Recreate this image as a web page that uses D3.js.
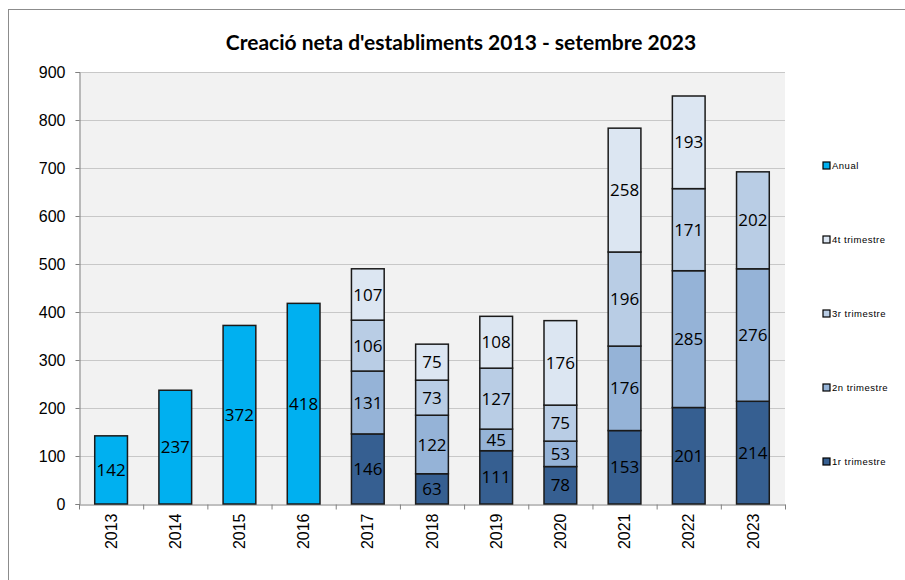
<!DOCTYPE html>
<html>
<head>
<meta charset="utf-8">
<script src="https://cdn.jsdelivr.net/npm/d3@7"></script>
<style>
  body { margin: 0; background: #fff; }
  svg { display: block; }
  .tick text { font-family: "Liberation Sans", Arial, sans-serif; font-size: 16px; fill: #000; }
</style>
</head>
<body>
<svg id="chart" width="905" height="580"></svg>
<script>
var years = ["2013", "2014", "2015", "2016", "2017", "2018", "2019", "2020", "2021", "2022", "2023"];
// yearly totals only for the first years
var anual = [142, 237, 372, 418, null, null, null, null, null, null, null];
var q1 = [null, null, null, null, 146, 63, 111, 78, 153, 201, 214];
var q2 = [null, null, null, null, 131, 122, 45, 53, 176, 285, 276];
var q3 = [null, null, null, null, 106, 73, 127, 75, 196, 171, 202];
var q4 = [null, null, null, null, 107, 75, 108, 176, 258, 193, null];
var yTicks = [0, 100, 200, 300, 400, 500, 600, 700, 800, 900];

var series = [
    { name: "1r trimestre", values: q1, color: "#365f91" },
    { name: "2n trimestre", values: q2, color: "#95b3d7" },
    { name: "3r trimestre", values: q3, color: "#b9cde5" },
    { name: "4t trimestre", values: q4, color: "#dce6f2" },
    { name: "Anual", values: anual, color: "#00b0f0" }
];
var legendOrder = ["Anual", "4t trimestre", "3r trimestre", "2n trimestre", "1r trimestre"];

var svg = d3.select("#chart");
var plotL = 79, plotR = 785, plotT = 72, plotB = 504;

//outer frame
svg.append("rect")
    .attr("x", 8.5).attr("y", 9.5)
    .attr("width", 920).attr("height", 600)
    .attr("fill", "#fff")
    .attr("stroke", "#8c8c8c");

svg.append("text")
    .attr("x", 461).attr("y", 50)
    .attr("text-anchor", "middle")
    .attr("font-family", "Lato, 'Open Sans', sans-serif")
    .attr("font-weight", "bold")
    .attr("font-size", 21)
    .text("Creació neta d'establiments 2013 - setembre 2023");

var x = d3.scaleBand().domain(years).range([plotL, plotR]).paddingInner(0).paddingOuter(0);
var y = d3.scaleLinear().domain([0, 900]).range([plotB, plotT]);

svg.append("rect")
    .attr("x", plotL).attr("y", plotT)
    .attr("width", plotR - plotL).attr("height", plotB - plotT)
    .attr("fill", "#f2f2f2");

svg.append("g")
    .selectAll("line")
    .data(yTicks.slice(1))
    .join("line")
    .attr("x1", plotL).attr("x2", plotR)
    .attr("y1", d => Math.round(y(d)) + 0.5)
    .attr("y2", d => Math.round(y(d)) + 0.5)
    .attr("stroke", "#c8c8c8");

var yAxis = svg.append("g")
    .attr("transform", "translate(" + (plotL + 0.5) + ",0)")
    .call(d3.axisLeft(y).tickValues(yTicks).tickSize(4).tickPadding(10));
yAxis.selectAll("path, line").attr("stroke", "#808080");

var xAxis = svg.append("g")
    .attr("transform", "translate(0," + (plotB + 0.5) + ")")
    .call(d3.axisBottom(x).tickSize(0).tickSizeOuter(0));
xAxis.select("path").attr("stroke", "#808080");
xAxis.selectAll(".tick text")
    .attr("transform", "rotate(-90)")
    .attr("text-anchor", "end")
    .attr("x", -9).attr("y", 0)
    .attr("dy", "0.35em");
//ticks between categories
xAxis.selectAll(".sep")
    .data(years.concat(["end"]))
    .join("line")
    .attr("x1", (d, i) => plotL + i * x.bandwidth() + 0.5)
    .attr("x2", (d, i) => plotL + i * x.bandwidth() + 0.5)
    .attr("y1", 0).attr("y2", 5)
    .attr("stroke", "#808080");

//stack the segments
var barW = x.bandwidth() * 0.51;
var segs = [];
years.forEach(function(yr, i) {
    var base = 0;
    series.forEach(function(s) {
        var v = s.values[i];
        if (v == null) return;
        segs.push({ year: yr, y0: base, y1: base + v, v: v, color: s.color });
        base += v;
    });
});

svg.append("g")
    .selectAll("rect")
    .data(segs)
    .join("rect")
    .attr("x", d => x(d.year) + (x.bandwidth() - barW) / 2)
    .attr("y", d => y(d.y1))
    .attr("width", barW)
    .attr("height", d => y(d.y0) - y(d.y1))
    .attr("fill", d => d.color)
    .attr("stroke", "#1a1a1a")
    .attr("stroke-width", 1.5);

svg.append("g")
    .selectAll("text")
    .data(segs)
    .join("text")
    .attr("x", d => x(d.year) + x.bandwidth() / 2)
    .attr("y", d => (y(d.y0) + y(d.y1)) / 2)
    .attr("dy", "0.36em")
    .attr("text-anchor", "middle")
    .attr("font-family", "'Open Sans', sans-serif")
    .attr("font-size", 17)
    .attr("fill", "#000")
    .text(d => d.v);

//legend
var legend = svg.append("g")
    .selectAll("g")
    .data(legendOrder)
    .join("g")
    .attr("transform", (d, i) => "translate(823," + (166 + i * 74) + ")");
legend.append("rect")
    .attr("x", 0).attr("y", -4)
    .attr("width", 7).attr("height", 7)
    .attr("fill", d => series.find(s => s.name === d).color)
    .attr("stroke", "#000").attr("stroke-width", 1.2);
legend.append("text")
    .attr("x", 9).attr("y", 0)
    .attr("dy", "0.35em")
    .attr("font-family", "'Liberation Sans', Arial, sans-serif")
    .attr("font-size", 9.5)
    .attr("letter-spacing", 0.5)
    .text(d => d);
</script>
</body>
</html>
